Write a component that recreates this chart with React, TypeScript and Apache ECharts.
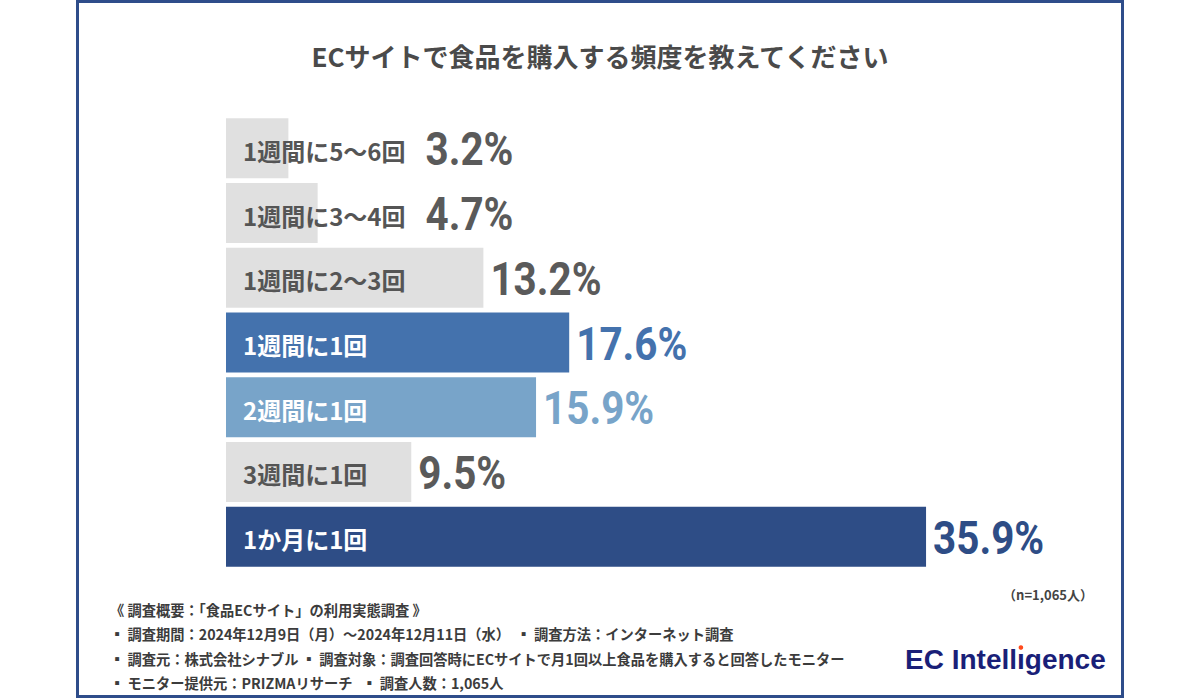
import React, { useEffect, useRef } from "react";
import * as echarts from "echarts";

const categories = [
  "1週間に5〜6回",
  "1週間に3〜4回",
  "1週間に2〜3回",
  "1週間に1回",
  "2週間に1回",
  "3週間に1回",
  "1か月に1回",
];
const values = [3.2, 4.7, 13.2, 17.6, 15.9, 9.5, 35.9];
const barColors = ["#e0e0e0", "#e0e0e0", "#e0e0e0", "#4472ad", "#78a4c9", "#e0e0e0", "#2e4d86"];
const catLabelColors = ["#555555", "#555555", "#555555", "#ffffff", "#ffffff", "#555555", "#ffffff"];
const valueColors = ["#5a5a5a", "#5a5a5a", "#5a5a5a", "#4472ad", "#78a4c9", "#5a5a5a", "#2e4d86"];

const titleText = "ECサイトで食品を購入する頻度を教えてください";
const sampleNote = "（n=1,065人）";
const footerLines = [
  "《 調査概要：「食品ECサイト」の利用実態調査 》",
  "▪ 調査期間：2024年12月9日（月）～2024年12月11日（水）  ▪ 調査方法：インターネット調査",
  "▪ 調査元：株式会社シナブル ▪ 調査対象：調査回答時にECサイトで月1回以上食品を購入すると回答したモニター",
  "▪ モニター提供元：PRIZMAリサーチ   ▪ 調査人数：1,065人",
];

const CJK = "'Noto Sans CJK JP', 'Noto Sans', sans-serif";
const NUM = "Roboto, 'DejaVu Sans', sans-serif";
const CAT_FONT_SIZE = 24;
const CAT_PAD = 17;
const NUM_SCALE_X = 0.86;

export default function App() {
  const ref = useRef<HTMLDivElement>(null);
  useEffect(() => {
    if (!ref.current) return;
    const chart = echarts.init(ref.current, null, { renderer: "svg" });

    const canvas = document.createElement("canvas");
    const ctx = canvas.getContext("2d")!;
    ctx.font = `bold ${CAT_FONT_SIZE}px ${CJK}`;
    const catWidths = categories.map((c) => ctx.measureText(c).width);
    ctx.font = `bold 28px 'Liberation Sans', Arial, sans-serif`;
    const preW = ctx.measureText("EC Intell").width;
    const iW = ctx.measureText("ı").width;

    const logoX = 905;
    const logoY = 659;

    const option: any = {
      animation: false,
      backgroundColor: "#ffffff",
      title: {
        text: titleText,
        left: "center",
        top: 37,
        textStyle: { fontFamily: CJK, fontWeight: "bold", fontSize: 26, color: "#4a4a4a" },
      },
      grid: { left: 226, width: 780, top: 116, height: 453, containLabel: false },
      xAxis: { type: "value", min: 0, max: 40, show: false },
      yAxis: {
        type: "category",
        inverse: true,
        data: categories,
        show: false,
      },
      series: [
        {
          type: "bar",
          barWidth: 60,
          silent: true,
          data: values.map((v, i) => ({
            value: v,
            itemStyle: { color: barColors[i] },
            label: {
              show: true,
              position: [CAT_PAD, 30],
              verticalAlign: "middle",
              align: "left",
              formatter: categories[i],
              color: catLabelColors[i],
              fontFamily: CJK,
              fontWeight: "bold",
              fontSize: CAT_FONT_SIZE,
              offset: [0, 2],
            },
          })),
        },
        {
          type: "custom",
          silent: true,
          z: 6,
          encode: { x: 0, y: 1 },
          data: values.map((v, i) => [v, i]),
          renderItem: (params: any, api: any) => {
            const i = params.dataIndex;
            const v = api.value(0);
            const end = api.coord([v, i]);
            const zero = api.coord([0, i]);
            const catEnd = zero[0] + CAT_PAD + catWidths[i];
            const x = Math.max(end[0] + 7, catEnd + 20);
            return {
              type: "text",
              x,
              y: end[1] + 1,
              scaleX: NUM_SCALE_X,
              style: {
                text: `${v}%`,
                fill: valueColors[i],
                fontFamily: NUM,
                fontWeight: "bold",
                fontSize: 47,
                verticalAlign: "middle",
                align: "left",
              },
            };
          },
        },
      ],
      graphic: [
        {
          type: "rect",
          shape: { x: 77.5, y: 1.5, width: 1045, height: 695 },
          style: { fill: "none", stroke: "#2e4d8a", lineWidth: 3 },
          silent: true,
        },
        {
          type: "text",
          x: 1093,
          y: 594,
          style: {
            text: sampleNote,
            fontFamily: CJK,
            fontSize: 13,
            fontWeight: "bold",
            fill: "#444444",
            align: "right",
            verticalAlign: "middle",
          },
        },
        ...footerLines.map((t, i) => ({
          type: "text",
          x: 110,
          y: 609 + i * 24.5,
          style: {
            text: t,
            fontFamily: CJK,
            fontSize: 14.25,
            fontWeight: "bold",
            fill: "#3c3c3c",
            verticalAlign: "middle",
          },
        })),
        {
          type: "text",
          x: logoX,
          y: logoY,
          style: {
            text: "EC Intellıgence",
            fontFamily: "'Liberation Sans', Arial, sans-serif",
            fontSize: 28,
            fontWeight: "bold",
            fill: "#1a1f78",
            verticalAlign: "middle",
          },
        },
        {
          type: "circle",
          shape: { cx: logoX + preW + iW / 2, cy: logoY - 11.5, r: 2.3 },
          style: { fill: "#ff4a1c" },
        },
      ],
    };
    chart.setOption(option);

    return () => chart.dispose();
  }, []);
  return (
    <div
      ref={ref}
      style={{ position: "absolute", left: 0, top: 0, width: 1200, height: 700 }}
    />
  );
}
